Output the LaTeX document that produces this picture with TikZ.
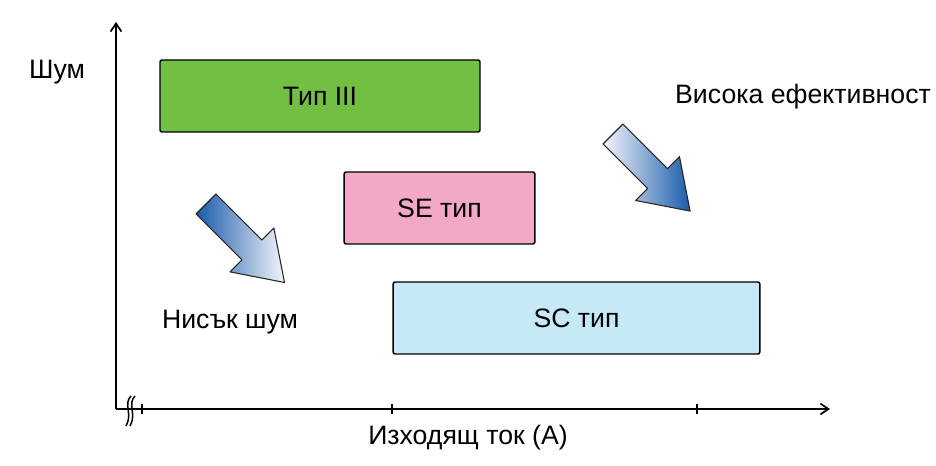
\documentclass[tikz,border=0pt]{standalone}
\usepackage{fontspec}
\setmainfont{Liberation Sans}
\usetikzlibrary{arrows.meta}
\definecolor{typgreen}{HTML}{72BF44}
\definecolor{sepink}{HTML}{F4A8C8}
\definecolor{scblue}{HTML}{C6E9F8}
\definecolor{darkblue}{HTML}{1A5CAA}
\definecolor{paleblue}{HTML}{F4F5FB}
\begin{document}
\begin{tikzpicture}[x=0.75pt, y=-0.75pt,
    box/.style={draw, line width=1.1pt, rounded corners=1.5pt, minimum height=54pt,
        font=\fontsize{20}{24}\selectfont},
    lbl/.style={font=\fontsize{20}{24}\selectfont},
    axis/.style={line width=1.5pt, -{Straight Barb[length=6pt,width=8pt,line width=1.3pt]}},
    fatarrow/.style={draw=black!85, line width=0.8pt, line join=round}]
    % the frame
    \useasboundingbox (0,0) rectangle (936,466);
    % the axes
    \coordinate (origin) at (116,409);
    \draw[axis] (origin) -- (116,22);
    \draw[axis] (origin) -- (830,409);
    \foreach \x in {142,392,697} {
        \draw[line width=1.5pt] (\x,404) -- (\x,414);
    };
    % the axis break
    \draw[line width=1.1pt] (131,396) .. controls (123,404) and (133,414) .. (126,426);
    \draw[line width=1.1pt] (135,396) .. controls (127,404) and (137,414) .. (130,426);

    % the boxes
    \node[box, fill=typgreen, minimum width=240pt] (typ3) at (320,96) {Тип III};
    \node[box, fill=sepink, minimum width=143pt] (se) at (439.5,208) {SE тип};
    \node[box, fill=scblue, minimum width=275pt] (sc) at (576.5,318) {SC тип};

    % the fat arrows
    \begin{scope}[shift={(206,204)}, rotate=-45]
        \shade[fatarrow, left color=darkblue, right color=paleblue]
            (0,-14) -- (65,-14) -- (65,-31) -- (111,0) -- (65,31) -- (65,14) -- (0,14) -- cycle;
    \end{scope}
    \begin{scope}[shift={(613,134)}, rotate=-45]
        \shade[fatarrow, left color=paleblue, right color=darkblue]
            (0,-14) -- (63,-14) -- (63,-31) -- (109,0) -- (63,31) -- (63,14) -- (0,14) -- cycle;
    \end{scope}

    % labels
    \node[lbl] (noise) at (57,72) {Шум};
    \node[lbl] (current) at (468,438) {Изходящ ток (A)};
    \node[lbl] (lownoise) at (230,322) {Нисък шум};
    \node[lbl] (higheff) at (803,97) {Висока ефективност};
\end{tikzpicture}
\end{document}
